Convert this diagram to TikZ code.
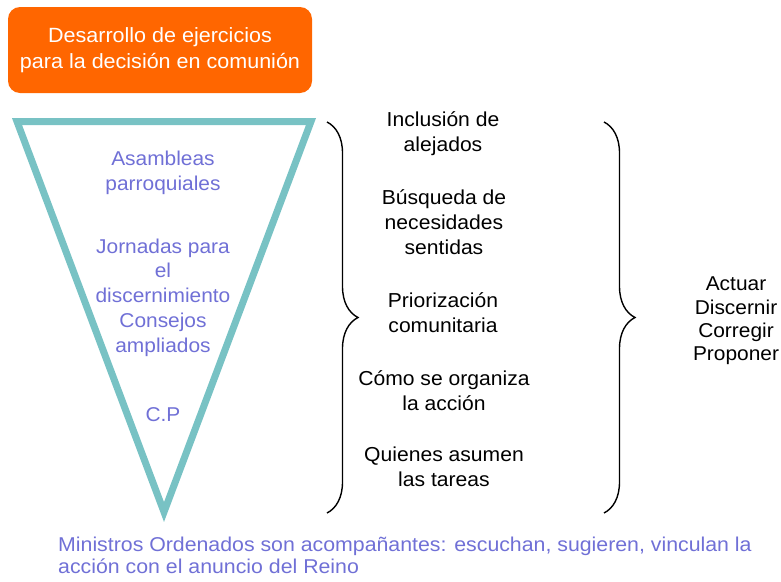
\documentclass[tikz,border=0pt]{standalone}
\usepackage{fontspec}
\setmainfont[FakeStretch=1.045]{Liberation Sans}
\newfontfamily\widefont[FakeStretch=1.065]{Liberation Sans}
\usetikzlibrary{decorations}
\usetikzlibrary{decorations.pathreplacing}

\definecolor{boxorange}{RGB}{255,102,0}
\definecolor{funnelteal}{RGB}{120,194,196}
\definecolor{textblue}{RGB}{112,112,214}

\tikzset{
    funnel/.style={draw=funnelteal, line width=7pt, line join=miter},
    bluetext/.style={text=textblue, align=center, inner sep=0pt, font=\fontsize{20}{24.75}\selectfont},
    steptext/.style={text=black, align=center, inner sep=0pt, font=\fontsize{20.2}{25}\selectfont},
    curly/.style={decorate, decoration={brace, amplitude=31pt}, line width=1.4pt},
}

\begin{document}
\begin{tikzpicture}[x=1pt, y=-1pt]
    \useasboundingbox (0,0) rectangle (781,581);

    % Header box:
    \node (header) [fill=boxorange, rounded corners=12pt, minimum width=304pt, minimum height=86pt,
        text=white, align=center, font=\fontsize{20.6}{26}\selectfont] at (160,50)
        {Desarrollo de ejercicios\\para la decisi\'on en comuni\'on};

    % Funnel:
    \draw [funnel] (17,121.5) -- (311,121.5) -- (164,512) -- cycle;

    % Levels inside the funnel:
    \begin{scope}[bluetext]
    \node (asambleas) at (163,172.5) {Asambleas\\parroquiales};
    \node (jornadas)  at (163,297.5) {Jornadas para\\el\\discernimiento\\Consejos\\ampliados};
    \node (cp)        at (163,415)   {C.P};
    \end{scope}

    % Steps:
    \begin{scope}[steptext]
    \node (inclusion)    at (443,133.5) {Inclusi\'on de\\alejados};
    \node (busqueda)     at (444,222.5) {B\'usqueda de\\necesidades\\sentidas};
    \node (priorizacion) at (443,313)   {Priorizaci\'on\\comunitaria};
    \node (organiza)     at (444,390.5) {C\'omo se organiza\\la acci\'on};
    \node (tareas)       at (444,467)   {Quienes asumen\\las tareas};
    \end{scope}

    % Braces:
    \coordinate (lbtop) at (327,122);
    \coordinate (lbbot) at (327,513);
    \coordinate (rbtop) at (604,122);
    \coordinate (rbbot) at (604,513);
    \draw [curly] (lbtop) -- (lbbot);
    \draw [curly] (rbtop) -- (rbbot);

    \node (acciones) [steptext, font=\fontsize{20}{23.3}\selectfont] at (736,321)
        {Actuar\\Discernir\\Corregir\\Proponer};

    % Footer:
    \node (ministros) [bluetext, align=left, anchor=west, font=\widefont\fontsize{20}{21.7}\selectfont] at (58,555.5)
        {Ministros Ordenados son acompa\~nantes: escuchan, sugieren, vinculan la\\acci\'on con el anuncio del Reino};
\end{tikzpicture}
\end{document}
